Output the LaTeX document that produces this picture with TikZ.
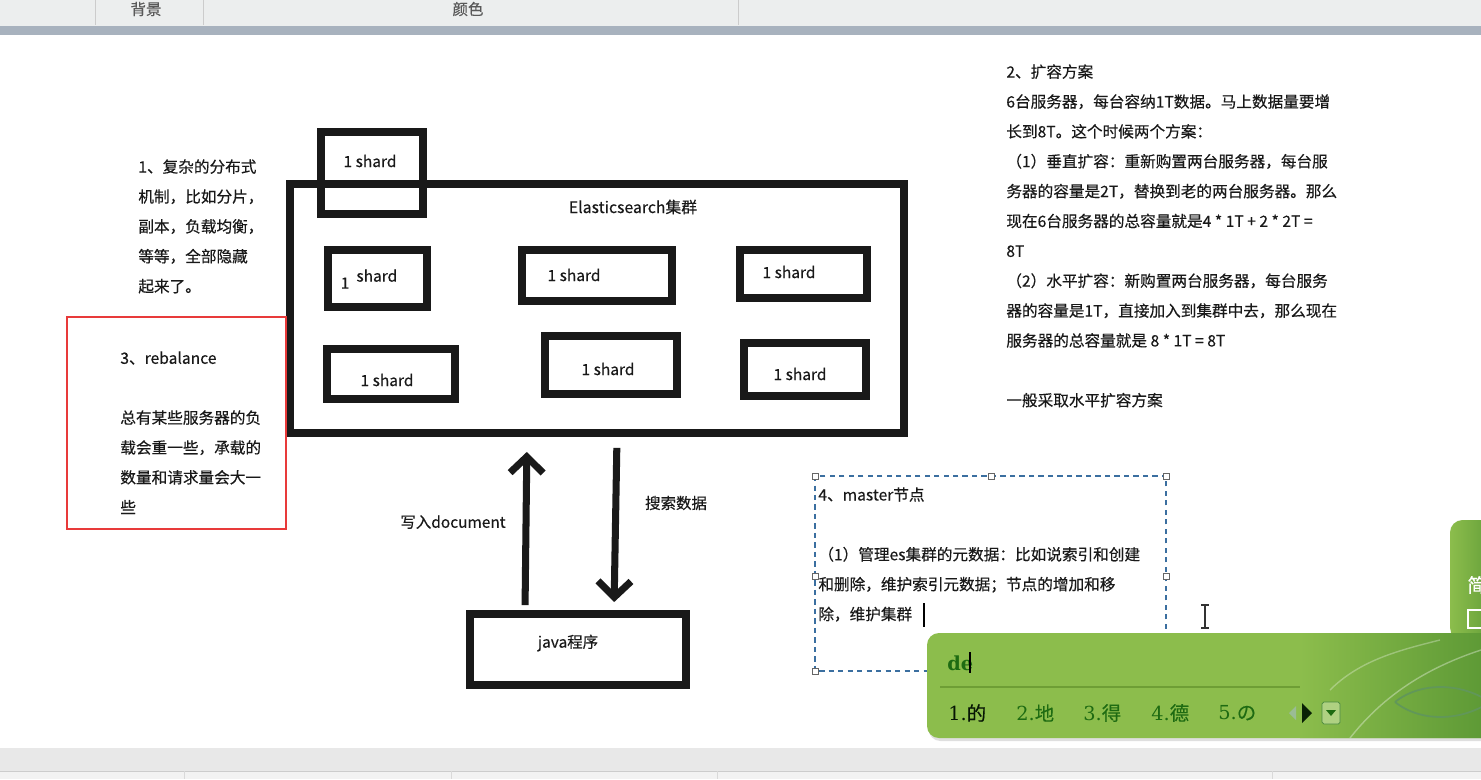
\documentclass[tikz,border=0pt]{standalone}
\usepackage{fontspec}
\setmainfont{Noto Sans CJK SC}[FakeBold=0.35]
\newfontfamily\imefont{DejaVu Serif}
\usepackage{tikz}
\usetikzlibrary{arrows.meta,positioning,shadows}
\definecolor{barLight}{HTML}{ECEEEE}
\definecolor{barBlue}{HTML}{A8B2BE}
\definecolor{statusGray}{HTML}{E8E8E8}
\definecolor{noteRed}{HTML}{E83A3A}
\definecolor{selBlue}{HTML}{3B6FA0}
\definecolor{imeGreen}{HTML}{8CBD4C}
\definecolor{imeDark}{HTML}{5E9A36}
\definecolor{imeText}{HTML}{1E6B12}
\definecolor{imeLine}{HTML}{6E9E35}
\tikzset{
    shard/.style={draw=black!90, line width=4.5pt, inner sep=0pt},
    shardtext/.style={font=\fontsize{8.8pt}{10pt}\selectfont, text=black!90, inner sep=0pt},
    note/.style={font=\fontsize{8.9pt}{17pt}\selectfont, align=left, inner sep=0pt, anchor=north west, text=black!90},
    flow/.style={draw=black!90, line width=4pt, -{Straight Barb[length=0.32cm, width=0.66cm]}},
    handle/.style={draw=black!60, fill=white, line width=0.5pt, minimum size=0.12cm, inner sep=0pt},
    candidate/.style={font=\fontsize{11pt}{12pt}\selectfont, text=imeText, inner sep=0pt, anchor=west}
}

\begin{document}
\begin{tikzpicture}[x=0.02cm, y=-0.02cm]
    \useasboundingbox (0,0) rectangle (1481,779);
    \fill[white] (0,0) rectangle (1481,779);
    % window bars
    \fill[barLight] (0,0) rectangle (1481,26);
    \draw[black!20] (95,0) -- (95,25) (203,0) -- (203,25) (738,0) -- (738,25);
    \fill[barBlue] (0,26) rectangle (1481,35);
    \node[font=\fontsize{8.8pt}{10pt}\selectfont, text=black!65] (bg) at (146,9) {背景};
    \node[font=\fontsize{8.8pt}{10pt}\selectfont, text=black!65] (color) at (468,9) {颜色};
    \fill[statusGray] (0,748) rectangle (1481,779);
    \fill[black!5] (0,771) rectangle (1481,779);
    \draw[black!20] (0,771) -- (1481,771);
    \draw[black!15] (184,771) -- (184,779) (451,771) -- (451,779) (717,771) -- (717,779) (1272,771) -- (1272,779);

    % cluster and shards
    \node[shard, minimum width=12.28cm, minimum height=4.98cm] (cluster) at (597,308.5) {};
    \node[shardtext, font=\fontsize{9pt}{10pt}\selectfont] (clusterlabel) at (633,207) {Elasticsearch集群};
    \node[shard, minimum width=2.04cm, minimum height=1.64cm] (s0) at (372,173) {};
    \node[shardtext] (s0t) at (370,161) {1 shard};
    \node[shard, minimum width=1.98cm, minimum height=1.14cm] (s1) at (377.5,278.5) {};
    \node[shardtext] (s1t) at (369,279) {\raisebox{-4pt}{1}\hspace{4pt}shard};
    \node[shard, minimum width=3.00cm, minimum height=1.02cm] (s2) at (597,275.5) {};
    \node[shardtext] (s2t) at (574,275) {1 shard};
    \node[shard, minimum width=2.54cm, minimum height=0.96cm] (s3) at (803.5,274) {};
    \node[shardtext] (s3t) at (789,272) {1 shard};
    \node[shard, minimum width=2.56cm, minimum height=1.00cm] (s4) at (391,374) {};
    \node[shardtext] (s4t) at (387,380) {1 shard};
    \node[shard, minimum width=2.64cm, minimum height=1.16cm] (s5) at (611,365) {};
    \node[shardtext] (s5t) at (608,369) {1 shard};
    \node[shard, minimum width=2.44cm, minimum height=1.06cm] (s6) at (805,369.5) {};
    \node[shardtext] (s6t) at (800,374) {1 shard};

    % client and the two flows
    \node[shard, minimum width=4.32cm, minimum height=1.42cm] (java) at (578,649.5) {};
    \node[shardtext] (javat) at (568,643) {java程序};
    \draw[flow, shorten <=0.1cm, shorten >=0.3cm] ([xshift=-1.06cm]java.north) -- ([xshift=-1.40cm]cluster.south);
    \draw[flow, shorten <=0.22cm, shorten >=0.16cm] ([xshift=0.40cm]cluster.south) -- ([xshift=0.72cm]java.north);
    \node[shardtext] (write) at (453,522) {写入document};
    \node[shardtext] (search) at (676,503) {搜索数据};

    % notes
    \node[note] (n1) at (138,159) {1、复杂的分布式\\机制，比如分片，\\副本，负载均衡，\\等等，全部隐藏\\起来了。};
    \draw[noteRed, line width=0.6pt] (67,317) rectangle (286,529);
    \node[note] (n3) at (120,351) {3、rebalance\\[17pt]总有某些服务器的负\\载会重一些，承载的\\数量和请求量会大一\\些};
    \node[note] (n2) at (1006,64) {2、扩容方案\\6台服务器，每台容纳1T数据。马上数据量要增\\长到8T。这个时候两个方案：\\（1）垂直扩容：重新购置两台服务器，每台服\\务器的容量是2T，替换到老的两台服务器。那么\\现在6台服务器的总容量就是4 * 1T + 2 * 2T =\\8T\\（2）水平扩容：新购置两台服务器，每台服务\\器的容量是1T，直接加入到集群中去，那么现在\\服务器的总容量就是 8 * 1T = 8T\\[17pt]一般采取水平扩容方案};

    % selected text box
    \draw[selBlue, line width=0.7pt, dash pattern=on 3pt off 2.4pt] (815,476) rectangle (1166,671);
    \node[note] (n4) at (818,487) {4、master节点\\[17pt]（1）管理es集群的元数据：比如说索引和创建\\和删除，维护索引元数据；节点的增加和移\\除，维护集群};
    \draw[black, line width=0.7pt] (924,603) -- (924,627);
    \foreach \hx/\hy in {815/476, 991/476, 1166/476, 815/576, 1166/576, 815/671}
        \node[handle] at (\hx,\hy) {};
    \draw[black!80, line width=0.8pt] (1205,605) -- (1205,628) (1201,605) -- (1209,605) (1201,628) -- (1209,628);

    % input method window
    \shade[left color=imeGreen, right color=imeDark, rounded corners=0.25cm] (1450,520) rectangle (1500,640);
    \node[text=white, font=\fontsize{11pt}{12pt}\selectfont, anchor=west, inner sep=0pt] (simp) at (1467,585) {简};
    \draw[white, line width=1.2pt] (1468,610) rectangle (1490,628);
    \fill[imeGreen, rounded corners=0.24cm, drop shadow={opacity=0.25, shadow xshift=0.03cm, shadow yshift=-0.06cm}] (927,633) rectangle (1500,738);
    \begin{scope}
        \clip[rounded corners=0.24cm] (927,633) rectangle (1500,738);
        \shade[left color=imeGreen, right color=imeDark] (1300,633) rectangle (1481,738);
        \draw[imeText!70, line width=1pt] (1395,702) .. controls (1420,682) and (1460,682) .. (1490,702) .. controls (1460,722) and (1420,722) .. (1395,702);
        \draw[white, opacity=0.35, line width=0.8pt] (1350,738) .. controls (1380,700) and (1420,670) .. (1481,650);
        \draw[white, opacity=0.3, line width=0.8pt] (1330,690) .. controls (1360,660) and (1400,650) .. (1440,640);
    \end{scope}
    \draw[imeLine, line width=1pt] (940,687) -- (1300,687);
    \node[text=imeText, font=\imefont\bfseries\fontsize{11pt}{12pt}\selectfont, anchor=west, inner sep=0pt] (typed) at (947,663) {de};
    \draw[black, line width=0.7pt] (970,652) -- (970,673);
    \node[candidate, text=black!80!imeText] (c1) at (948,713) {{\imefont 1.}的};
    \node[candidate] (c2) at (1016,713) {{\imefont 2.}地};
    \node[candidate] (c3) at (1083,713) {{\imefont 3.}得};
    \node[candidate] (c4) at (1151,713) {{\imefont 4.}德};
    \node[candidate] (c5) at (1218,713) {{\imefont 5.}の};
    \fill[imeText!45] (1296,706) -- (1289,713) -- (1296,720) -- cycle;
    \fill[black!70!imeText] (1302,703) -- (1312,713) -- (1302,723) -- cycle;
    \draw[imeText!80, fill=imeGreen!70!white, rounded corners=1pt] (1322,702) rectangle (1340,724);
    \fill[imeText] (1326,710) -- (1336,710) -- (1331,716) -- cycle;
\end{tikzpicture}
\end{document}
